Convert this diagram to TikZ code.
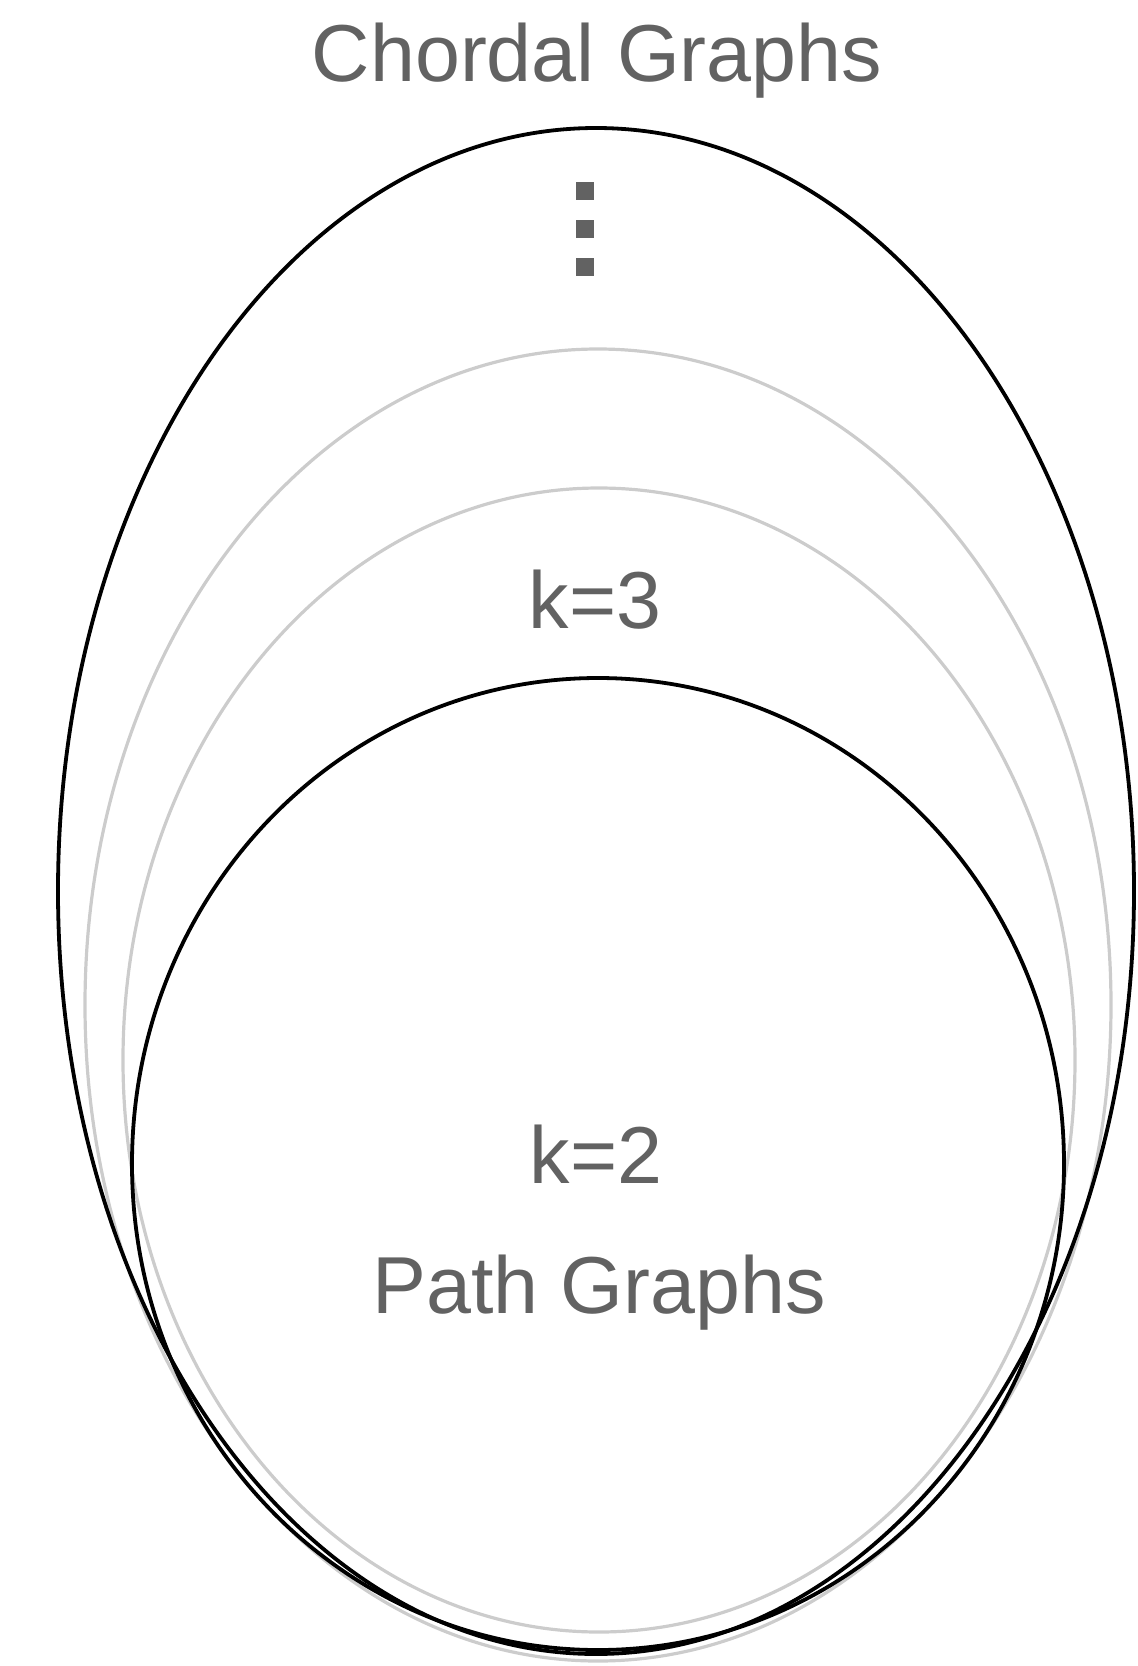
\documentclass[tikz,border=0pt]{standalone}
\usepackage{fontspec}
\setmainfont{Liberation Sans}
\definecolor{txtgray}{HTML}{626262}
\definecolor{linegray}{HTML}{CCCCCC}
\tikzset{
  label text/.style={text=txtgray, font=\fontsize{40.4}{48}\selectfont, anchor=base, inner sep=0pt},
  blackring/.style={draw=black, line width=1.9pt},
  grayring/.style={draw=linegray, line width=1.6pt},
  dotsq/.style={fill=txtgray, draw=none}
}
\begin{document}
\begin{tikzpicture}[x=0.5pt,y=-0.5pt]
\useasboundingbox (0,0) rectangle (1137,1666);
% rings
\draw[grayring] (598,1005) ellipse [x radius=513, y radius=656];
\draw[grayring] (599,1060) ellipse [x radius=476, y radius=572];
\draw[blackring] (596,891) ellipse [x radius=538, y radius=763];
\draw[blackring] (598,1164) ellipse [x radius=466, y radius=486];
% vertical dots
\fill[dotsq] (576,182) rectangle (594,200);
\fill[dotsq] (576,220) rectangle (594,238);
\fill[dotsq] (576,258) rectangle (594,276);
% labels
\node[label text] (chordal) at (597,81) {Chordal Graphs};
\node[label text] (k3) at (595,628) {k=3};
\node[label text] (k2) at (596,1183) {k=2};
\node[label text] (path) at (599,1313) {Path Graphs};
\end{tikzpicture}
\end{document}
